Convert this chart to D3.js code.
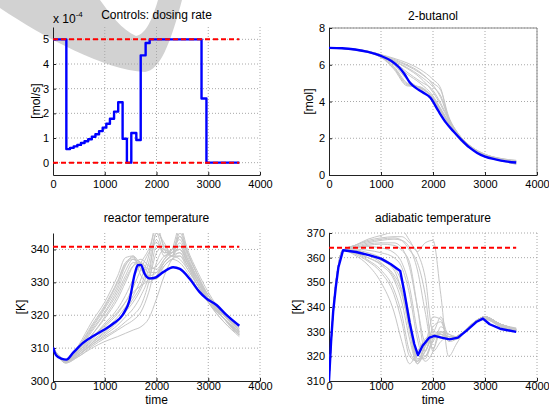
<!DOCTYPE html>
<html>
<head>
<meta charset="utf-8">
<script src="https://cdn.jsdelivr.net/npm/d3@7"></script>
<style>
body{margin:0;background:#fff}
text{font-family:"Liberation Sans",Arial,sans-serif;fill:#000}
</style>
</head>
<body>
<svg id="fig" width="549" height="410"></svg>
<script>
// time ticks shared by every panel
var tickX=[0,1000,2000,3000,4000];

// dosing rate (x 1e-4 mol/s), piecewise constant, value holds from each start time
var doseT=[0,258,330,400,470,540,610,680,750,820,890,960,1030,1100,1180,1260,1345,1428,1513,1610,1695,1790,1868,2870,2965,3600];
var doseV=[5,0.55,0.6,0.66,0.72,0.8,0.87,0.95,1.05,1.15,1.28,1.42,1.58,1.78,2.07,2.45,0.97,0,1.2,0.92,4.35,4.85,5,2.6,0,0];
var doseLimits=[0,5];
var doseTicks=[0,1,2,3,4,5];

// 2-butanol [mol], nominal (blue) and scenarios (gray)
var butT=[0,250,500,750,1000,1200,1350,1450,1550,1650,1800,1950,2100,2250,2400,2550,2700,2850,3000,3200,3400,3600];
var butV=[6.92,6.9,6.83,6.7,6.48,6.2,5.85,5.5,5.05,4.78,4.5,4.2,3.5,2.85,2.35,1.9,1.5,1.2,1.0,0.85,0.74,0.68];
var butGridT=[0,500,1000,1250,1500,1750,2000,2150,2300,2500,2750,3000,3300,3600];
var but1=[6.92,6.8,6.4,5.75,4.85,4.78,4.15,3.5,2.85,2.0,1.4,1.05,0.8,0.65];
var but2=[6.92,6.8,6.42,5.85,4.9,4.8,4.2,3.6,2.9,2.05,1.42,1.05,0.8,0.62];
var but3=[6.92,6.82,6.45,6.0,5.2,4.7,4.05,3.45,2.8,2.0,1.4,1.05,0.82,0.66];
var but4=[6.92,6.82,6.48,6.1,5.5,5.0,4.3,3.6,2.85,2.05,1.45,1.08,0.84,0.7];
var but5=[6.92,6.85,6.55,6.35,6.1,5.75,5.2,4.7,3.0,2.15,1.5,1.1,0.86,0.72];
var but6=[6.92,6.85,6.55,6.3,6.0,5.6,4.9,4.2,3.1,2.2,1.5,1.12,0.88,0.75];
var but7=[6.92,6.84,6.52,6.2,5.8,5.3,4.5,3.8,3.0,2.1,1.47,1.1,0.86,0.73];
var but8=[6.92,6.83,6.5,6.15,5.6,5.1,4.6,3.9,3.05,2.15,1.5,1.12,0.9,0.78];
var but9=[6.92,6.84,6.53,6.25,5.95,5.55,5.0,4.6,3.2,2.2,1.52,1.13,0.9,0.8];
var but10=[6.92,6.81,6.43,5.9,5.0,4.75,4.2,3.55,2.85,2.0,1.4,1.03,0.78,0.6];
var but11=[6.92,6.81,6.42,5.8,4.95,4.75,4.15,3.5,2.8,1.95,1.38,1.02,0.78,0.58];
var but12=[6.92,6.84,6.52,6.2,5.85,5.4,4.8,4.3,3.1,2.15,1.5,1.12,0.88,0.76];
var butTicks=[0,2,4,6,8];

// reactor temperature [K]
var reacT=[0,60,160,260,390,580,770,970,1160,1350,1480,1580,1640,1700,1770,1870,1970,2130,2320,2450,2640,2830,2960,3160,3350,3600];
var reacV=[310.2,307.8,306.8,306.5,308.6,311.6,313.6,315.4,317.4,320.2,324.6,332.6,335.2,335.3,332.6,331.2,331.4,333.1,334.6,334.1,331.1,327.1,325.1,323.1,320.1,316.8];
var reacGridT=[0,250,500,750,1000,1250,1400,1550,1700,1850,2000,2150,2300,2450,2600,2800,3000,3300,3600];
var reac1=[310,305.5,311,318,324,332,337.5,338,332,330,332,336,338,337,334,329,325,320,316];
var reac2=[310,306,310.5,317,323,330.5,336,337.5,334,331,332,335,337,336,333,328,324,319,315];
var reac3=[310,306,310,315.5,321,328,333.5,337,336,333,333,336,338,339,335,330,325,320,316];
var reac4=[310,306,309.5,314,319,325,330,335,337,335,334,337,339,340,336,331,326,321,317];
var reac5=[310,306.5,309,313,317.5,322,326,331,336,340,346,341,339,342,337,331,326,320,315.5];
var reac6=[310,306.5,308.5,312,315.5,319.5,322.5,326,331,338,348,340,338,344,338,331,325,319,314.5];
var reac7=[310,306,308,311,314,317,319.5,322,326,332,345,339,339,346,339,332,326,319,314];
var reac8=[310,306,308,311.5,314.5,318,321,324,328,334,343,338,340,347,340,333,327,320,315];
var reac9=[310,305.5,307.5,310,312,313.5,314.5,315.5,316.5,319,325,332,337,339,335,329,324,318,313.5];
var reac10=[310,306,307.5,310.5,313,315.5,317,318.5,321,327,336,340,338,345,339,332,325,319,314];
var reac11=[310,306,309.5,315,320.5,327,332,336,335,332,333,337,340,341,336,330,325,320,316.5];
var reac12=[310,306,308.5,312.5,316.5,320.5,324,328.5,334,339,342,339,340,343,337,330,325,319,315];
var reac13=[310,306,309,313,317,321,324,327,329,331,339,341,339,340,336,330,324,318,314];
var reac14=[310,306,310,316,322,329,335,338,335,331,331,335,337,338,335,329,324,319,315];
var reac15=[310,306,309,314,319.5,326,331,335,336,334,335,338,339,340,336,330,325,320,315.5];
var reac16=[310,305.5,308,311.5,315,318.5,321.5,325,329,336,345,342,338,341,337,331,325,319,314];
var reac17=[310,306,308,311,313.5,316,318,320,323,330,341,340,339,344,339,332,326,319,314.5];
var reac18=[310,306,310.5,316.5,322.5,330,335.5,337,334,331,332,336,338,338,334,329,324,319,315];
var reacMax=340.8;
var reacTicks=[300,310,320,330,340];

// adiabatic temperature [K]
var adiaT=[0,40,80,130,180,270,520,770,1000,1190,1370,1450,1550,1640,1710,1800,1930,2030,2160,2320,2480,2640,2830,2960,3090,3290,3600];
var adiaV=[310,326,338,348,356,363,362.3,361,359.6,357.3,354.6,345.9,333.7,325,320.5,324.3,327.6,328.3,327.6,326.9,327.6,330.3,333.9,335.3,333,331.2,329.9];
var adiaGridT=[0,80,170,270,500,750,1000,1250,1400,1550,1700,1850,2000,2150,2300,2450,2600,2800,3000,3300,3600];
var adia1=[310,338,355.5,363,361,357,350,338,326,317,322,327,329,328,327,328,330,333.5,335,332,330];
var adia2=[310,338,355.5,363,361.5,358.5,354,345,334,320,318,325,329,328,327,328,330,333.5,335.5,332,330.5];
var adia3=[310,338,355.5,363,362,360,357,351,342,327,317,322,328,328,327,328,330,334,335.5,332.5,330.5];
var adia4=[310,338,355.5,363,363,362,360,356,350,336,319,320,327,329,327,328,330,334,336,332.5,331];
var adia5=[310,338,355.5,363,364,364.5,364,362,358,348,330,320,326,330,328,328,330,334,336,333,331];
var adia6=[310,338,355.5,363,364.5,366,367,367.5,367,364,355,338,323,330,329,328,330,334,336,333,331];
var adia7=[310,338,355.5,363,365,367,368,368.5,368.5,366,362,352,330,336,328,327,330,334,336,333,331];
var adia8=[310,338,355.5,363,365,367.5,369,370.5,371,367,362.5,366,367,345,320,325,330,334,336,333,331.5];
var adia9=[310,338,355.5,363,364,365,365.5,365,363,358,340,322,332,334,326,327,330,334,336,333,331];
var adia10=[310,338,355.5,363,362.5,361,359,355,346,330,317,324,330,329,327,328,330,334,335.5,332.5,330.5];
var adia11=[310,338,355.5,363,363.5,363,362,360,356,345,327,318,322,332,329,328,330,334,336,333,331];
var adia12=[310,338,355.5,363,362,359,355,347,337,322,318,324,328,328,327,328,330,333.5,335,332,330];
var adia13=[310,338,355.5,363,363,361,358,352,345,332,318,322,328,330,327,328,330,334,336,333,331];
var adia14=[310,338,355.5,363,364,365.5,366,366,364,356,340,326,336,335,327,327,330,334,336,333,331];
var adia15=[310,338,355.5,363,362,360,357.5,353,347,334,319,319,327,329,328,328,330,334,335.5,332.5,330.5];
var adia16=[310,338,355.5,363,365,366.5,367.5,368,367,363,358,345,322,326,328,328,330,334,336,333,331];
var adiaMax=364;
var adiaTicks=[310,320,330,340,350,360,370];

var svg=d3.select("#fig");

// light gray swoosh behind the first panel
svg.append("path")
  .attr("d","M0,0 L0,8 C45,38 105,70 145,72 C160,70 170,45 182,0 L158,0 C152,20 146,34 136,36 C122,30 110,14 100,0 Z")
  .attr("fill","#d2d2d2");

var clipCount=0;
function makePanel(c) {
  var x=d3.scaleLinear().domain([0,4000]).range([c.left,c.right]);
  var y=d3.scaleLinear().domain(c.yDomain).range([c.bottom,c.top]);
  var g=svg.append("g");
  var id="clip"+(clipCount++);
  svg.append("clipPath").attr("id",id).append("rect")
    .attr("x",c.left).attr("y",c.top).attr("width",c.right-c.left).attr("height",c.bottom-c.top);
  g.selectAll("line.gx").data(tickX.slice(1)).enter().append("line").attr("class","gx")
    .attr("x1",d=>x(d)).attr("x2",d=>x(d)).attr("y1",c.top).attr("y2",c.bottom)
    .attr("stroke","#a8a8a8").attr("stroke-dasharray","1,2");
  g.selectAll("line.gy").data(c.yTicks.filter(d=>d!=c.yDomain[0])).enter().append("line").attr("class","gy")
    .attr("y1",d=>y(d)).attr("y2",d=>y(d)).attr("x1",c.left).attr("x2",c.right)
    .attr("stroke","#a8a8a8").attr("stroke-dasharray","1,2");
  if (c.box) {
    g.append("path").attr("d","M"+c.left+","+c.top+"H"+c.right+"V"+c.bottom)
      .attr("fill","none").attr("stroke","#8a8a8a").attr("stroke-width",1);
  }
  var ax=g.append("g").attr("transform","translate(0,"+c.bottom+")")
    .call(d3.axisBottom(x).tickValues(tickX).tickFormat(d3.format("d")).tickSize(-3).tickSizeOuter(0).tickPadding(c.xPad));
  var ay=g.append("g").attr("transform","translate("+c.left+",0)")
    .call(d3.axisLeft(y).tickValues(c.yTicks).tickFormat(d3.format("d")).tickSize(-3).tickSizeOuter(0).tickPadding(4));
  [ax,ay].forEach(function(a){
    a.select(".domain").attr("stroke","#222");
    a.selectAll(".tick line").attr("stroke","#222");
    a.selectAll("text").attr("font-size","11px").attr("font-family",null).attr("fill","#000");
  });
  svg.append("text").attr("x",(c.left+c.right)/2).attr("y",c.titleY).attr("text-anchor","middle")
    .attr("font-size","12px").text(c.title);
  svg.append("text").attr("transform","translate("+c.yLabelX+","+(c.top+c.bottom)/2+") rotate(-90)")
    .attr("text-anchor","middle").attr("font-size","12px").text(c.yLabel);
  if (c.xLabel) {
    svg.append("text").attr("x",(c.left+c.right)/2).attr("y",404).attr("text-anchor","middle")
      .attr("font-size","12px").text(c.xLabel);
  }
  var plot=svg.append("g").attr("clip-path","url(#"+id+")");
  return {x:x,y:y,plot:plot};
}

function drawGray(p,tArr,series) {
  var line=d3.line().x((d,i)=>p.x(tArr[i])).y(d=>p.y(d)).curve(d3.curveMonotoneX);
  p.plot.selectAll("path.gray").data(series).enter().append("path").attr("class","gray")
    .attr("d",line).attr("fill","none").attr("stroke","#c6c6c6").attr("stroke-width",1);
}
function drawBlue(p,tArr,vals,curve) {
  var line=d3.line().x((d,i)=>p.x(tArr[i])).y(d=>p.y(d)).curve(curve);
  p.plot.append("path").datum(vals).attr("d",line).attr("fill","none")
    .attr("stroke","#0000ff").attr("stroke-width",2.4).attr("stroke-linejoin","round");
}
function drawLimit(p,v) {
  p.plot.append("line").attr("x1",p.x(0)).attr("x2",p.x(3600)).attr("y1",p.y(v)).attr("y2",p.y(v))
    .attr("stroke","#ff0000").attr("stroke-width",2).attr("stroke-dasharray","5,3");
}

// panel 1: dosing rate
var p1=makePanel({left:53,right:260,top:27,bottom:175,yDomain:[-0.5,5.5],yTicks:doseTicks,
  title:"Controls: dosing rate",titleY:19,yLabel:"[mol/s]",yLabelX:39.5,xPad:5});
drawBlue(p1,doseT,doseV,d3.curveStepAfter);
doseLimits.forEach(function(v){drawLimit(p1,v);});
var mult=svg.append("text").attr("x",53).attr("y",23).attr("font-size","12px");
mult.append("tspan").text("x 10");
mult.append("tspan").attr("font-size","8px").attr("dy","-6").text("-4");

// panel 2: 2-butanol
var p2=makePanel({left:329,right:537,top:28,bottom:175,yDomain:[0,8],yTicks:butTicks,box:true,
  title:"2-butanol",titleY:20,yLabel:"[mol]",yLabelX:313,xPad:5});
drawGray(p2,butGridT,[but1,but2,but3,but4,but5,but6,but7,but8,but9,but10,but11,but12]);
drawBlue(p2,butT,butV,d3.curveMonotoneX);

// panel 3: reactor temperature
var p3=makePanel({left:53,right:260,top:233,bottom:381,yDomain:[300,345],yTicks:reacTicks,
  title:"reactor temperature",titleY:222,yLabel:"[K]",yLabelX:24.5,xLabel:"time",xPad:1.5});
drawGray(p3,reacGridT,[reac1,reac2,reac3,reac4,reac5,reac6,reac7,reac8,reac9,reac10,reac11,reac12,reac13,reac14,reac15,reac16,reac17,reac18]);
drawBlue(p3,reacT,reacV,d3.curveMonotoneX);
drawLimit(p3,reacMax);

// panel 4: adiabatic temperature
var p4=makePanel({left:329,right:537,top:233,bottom:381,yDomain:[310,370],yTicks:adiaTicks,
  title:"adiabatic temperature",titleY:222,yLabel:"[K]",yLabelX:301,xLabel:"time",xPad:1.5});
drawGray(p4,adiaGridT,[adia1,adia2,adia3,adia4,adia5,adia6,adia7,adia8,adia9,adia10,adia11,adia12,adia13,adia14,adia15,adia16]);
drawBlue(p4,adiaT,adiaV,d3.curveLinear);
drawLimit(p4,adiaMax);
</script>
</body>
</html>
